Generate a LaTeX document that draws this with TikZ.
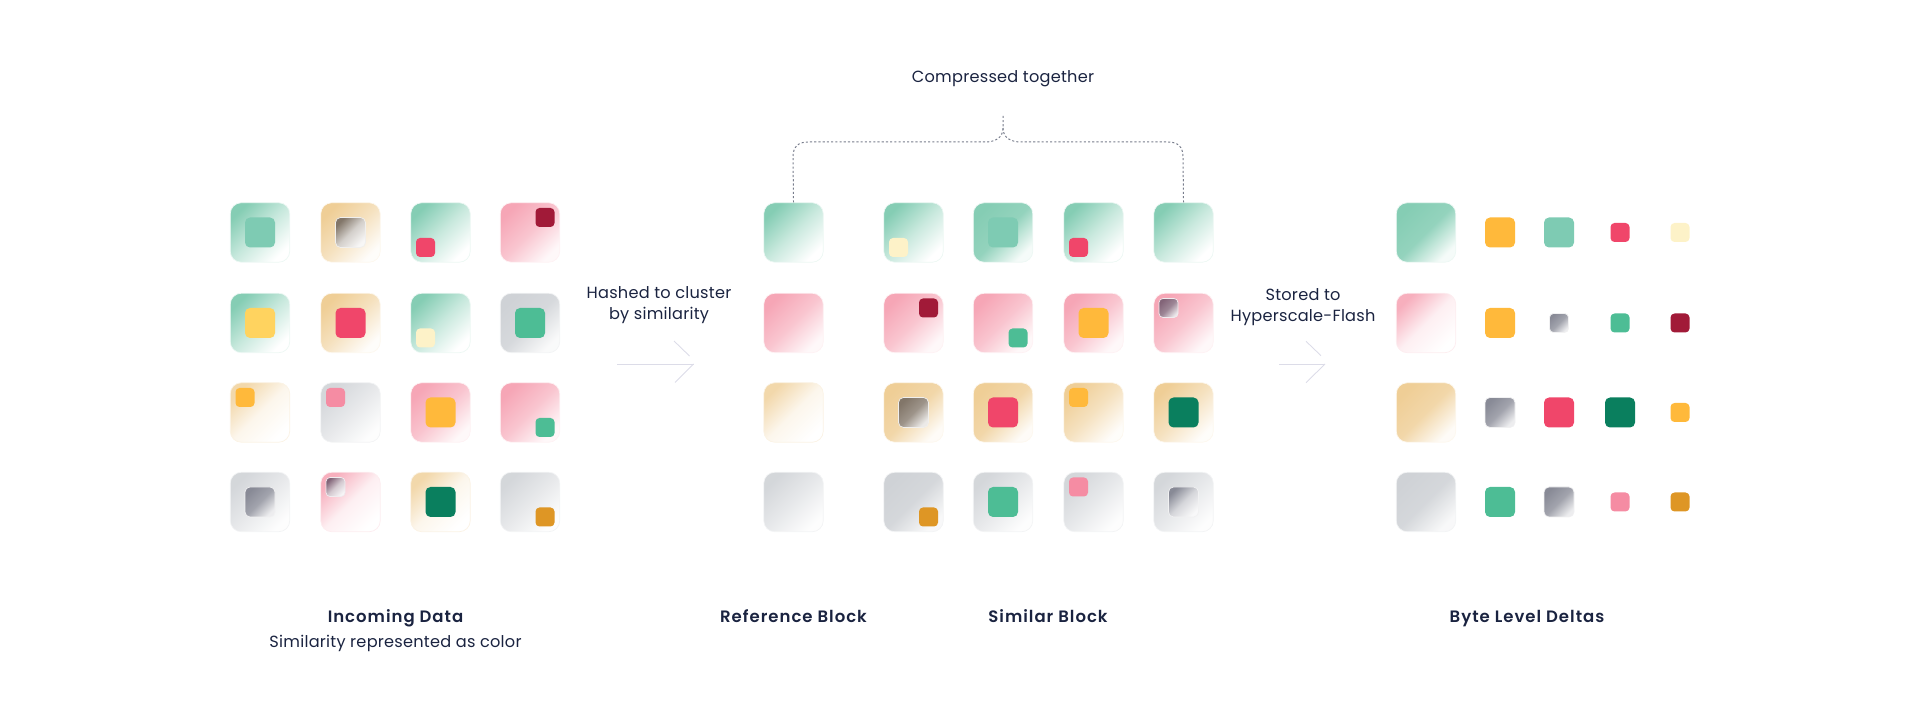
\documentclass[tikz,border=0pt]{standalone}
\usepackage{fontspec}
\setmainfont[LetterSpace=1.5]{Poppins}
\newfontfamily\titlefont[LetterSpace=6]{Poppins SemiBold}
\usetikzlibrary{positioning}
\definecolor{textnavy}{RGB}{26, 35, 64}
\definecolor{linegray}{RGB}{120, 125, 140}
\definecolor{arrowlav}{RGB}{220, 220, 232}
\definecolor{greenA}{RGB}{133, 205, 180}
\definecolor{tanA}{RGB}{239, 206, 150}
\definecolor{pinkA}{RGB}{246, 166, 182}
\definecolor{grayA}{RGB}{207, 210, 214}
\definecolor{sqteal}{RGB}{126, 203, 179}
\definecolor{sqyellow}{RGB}{255, 211, 95}
\definecolor{sqred}{RGB}{240, 70, 106}
\definecolor{sqwine}{RGB}{161, 26, 56}
\definecolor{sqcream}{RGB}{253, 242, 200}
\definecolor{sqgreen}{RGB}{77, 189, 149}
\definecolor{sqamber}{RGB}{255, 185, 59}
\definecolor{sqpink}{RGB}{245, 140, 163}
\definecolor{sqforest}{RGB}{10, 127, 94}
\definecolor{sqochre}{RGB}{222, 150, 37}
\definecolor{sqslate}{RGB}{136, 138, 150}
\definecolor{sqbrown}{RGB}{130, 118, 105}
\definecolor{sqmauve}{RGB}{130, 100, 120}
\tikzset{
    block/.style={rectangle, rounded corners=.11cm, minimum size=.595cm, inner sep=0pt, line width=.2pt},
    greenblock/.style={block, draw=greenA!15, top color=greenA, bottom color=white, middle color=greenA!45, shading angle=45},
    greenfull/.style={block, draw=greenA!15, top color=greenA, bottom color=greenA!8, middle color=greenA!88, shading angle=45},
    tanblock/.style={block, draw=tanA!15, top color=tanA, bottom color=tanA!5, middle color=tanA!60, shading angle=45},
    tanfull/.style={block, draw=tanA!15, top color=tanA, bottom color=tanA!8, middle color=tanA!82, shading angle=45},
    tanlight/.style={block, draw=tanA!25, top color=tanA!80, bottom color=white, middle color=tanA!18, shading angle=45},
    pinkblock/.style={block, draw=pinkA!15, top color=pinkA, bottom color=pinkA!8, middle color=pinkA!65, shading angle=45},
    pinklight/.style={block, draw=pinkA!20, top color=pinkA!90, bottom color=white, middle color=pinkA!18, shading angle=45},
    grayblock/.style={block, draw=grayA!25, top color=grayA, bottom color=grayA!12, middle color=grayA!85, shading angle=45},
    grayfull/.style={block, draw=grayA!25, top color=grayA, bottom color=grayA!15, middle color=grayA!88, shading angle=45},
    graylight/.style={block, draw=grayA!25, top color=grayA!90, bottom color=grayA!5, middle color=grayA!50, shading angle=45},
    bigsq/.style={rectangle, rounded corners=.05cm, minimum size=.30cm, inner sep=0pt},
    smallsq/.style={rectangle, rounded corners=.04cm, minimum size=.19cm, inner sep=0pt},
    fadesq/.style={top color=#1, bottom color=#1!6, middle color=#1!35, draw=#1!12, line width=.2pt, shading angle=45},
    fadefull/.style={top color=#1, bottom color=#1!15, middle color=#1!78, draw=#1!12, line width=.2pt, shading angle=45},
    label/.style={font=\fontsize{4.6pt}{6pt}\selectfont, text=textnavy, align=center},
    title/.style={font=\fontsize{4.7pt}{6pt}\selectfont\titlefont, text=textnavy, align=center, text height=4pt, text depth=1pt},
    thinarrow/.style={draw=arrowlav, line width=.25pt},
    bracket/.style={draw=linegray, line width=.28pt, dash pattern=on .6pt off .6pt},
}
\begin{document}
\begin{tikzpicture}[x=1cm, y=-1cm]
\useasboundingbox (0,0) rectangle (19.2,7.2);

% Incoming data
\node[greenblock] (inc11) at (2.60, 2.325) {};
\node[bigsq, fill=sqteal] (inc11s) at (2.60, 2.325) {};
\node[tanblock] (inc12) at (3.505, 2.325) {};
\node[bigsq, fadesq=sqbrown] (inc12s) at (3.505, 2.325) {};
\node[greenblock] (inc13) at (4.405, 2.325) {};
\node[smallsq, fill=sqred] (inc13s) at (4.255, 2.475) {};
\node[pinkblock] (inc14) at (5.30, 2.325) {};
\node[smallsq, fill=sqwine] (inc14s) at (5.45, 2.175) {};

\node[greenblock] (inc21) at (2.60, 3.23) {};
\node[bigsq, fill=sqyellow] (inc21s) at (2.60, 3.23) {};
\node[tanblock] (inc22) at (3.505, 3.23) {};
\node[bigsq, fill=sqred] (inc22s) at (3.505, 3.23) {};
\node[greenblock] (inc23) at (4.405, 3.23) {};
\node[smallsq, fill=sqcream] (inc23s) at (4.255, 3.38) {};
\node[grayblock] (inc24) at (5.30, 3.23) {};
\node[bigsq, fill=sqgreen] (inc24s) at (5.30, 3.23) {};

\node[tanlight] (inc31) at (2.60, 4.125) {};
\node[smallsq, fill=sqamber] (inc31s) at (2.45, 3.975) {};
\node[graylight] (inc32) at (3.505, 4.125) {};
\node[smallsq, fill=sqpink] (inc32s) at (3.355, 3.975) {};
\node[pinkblock] (inc33) at (4.405, 4.125) {};
\node[bigsq, fill=sqamber] (inc33s) at (4.405, 4.125) {};
\node[pinkblock] (inc34) at (5.30, 4.125) {};
\node[smallsq, fill=sqgreen] (inc34s) at (5.45, 4.275) {};

\node[graylight] (inc41) at (2.60, 5.02) {};
\node[bigsq, fadefull=sqslate] (inc41s) at (2.60, 5.02) {};
\node[pinklight] (inc42) at (3.505, 5.02) {};
\node[smallsq, fadesq=sqmauve] (inc42s) at (3.355, 4.87) {};
\node[tanlight] (inc43) at (4.405, 5.02) {};
\node[bigsq, fill=sqforest] (inc43s) at (4.405, 5.02) {};
\node[graylight] (inc44) at (5.30, 5.02) {};
\node[smallsq, fill=sqochre] (inc44s) at (5.45, 5.17) {};

\node[title] (inctitle) at (3.955, 6.175) {Incoming Data};
\node[label] (incsub) at (3.955, 6.435) {Similarity represented as color};

% Hash arrow
\node[label] (hashlabel) at (6.59, 3.05) {Hashed to cluster\\by similarity};
\coordinate (hashfrom) at (6.17, 3.64);
\coordinate (hashto) at (6.935, 3.64);
\coordinate (hashbarb) at (6.74, 3.41);
\coordinate (hashgap) at (6.895, 3.56);
\coordinate (hashlow) at (6.75, 3.825);
\draw[thinarrow] (hashfrom) -- (hashto);
\draw[thinarrow] (hashbarb) -- (hashgap);
\draw[thinarrow] (hashto) -- (hashlow);

% Reference blocks
\node[greenblock] (ref1) at (7.935, 2.325) {};
\node[pinkblock] (ref2) at (7.935, 3.23) {};
\node[tanlight] (ref3) at (7.935, 4.125) {};
\node[graylight] (ref4) at (7.935, 5.02) {};
\node[title] (reftitle) at (7.935, 6.175) {Reference Block};

% Similar blocks
\node[greenblock] (sim11) at (9.135, 2.325) {};
\node[smallsq, fill=sqcream] (sim11s) at (8.985, 2.475) {};
\node[greenfull] (sim12) at (10.03, 2.325) {};
\node[bigsq, fill=sqteal] (sim12s) at (10.03, 2.325) {};
\node[greenblock] (sim13) at (10.935, 2.325) {};
\node[smallsq, fill=sqred] (sim13s) at (10.785, 2.475) {};
\node[greenblock] (sim14) at (11.835, 2.325) {};

\node[pinkblock] (sim21) at (9.135, 3.23) {};
\node[smallsq, fill=sqwine] (sim21s) at (9.285, 3.08) {};
\node[pinkblock] (sim22) at (10.03, 3.23) {};
\node[smallsq, fill=sqgreen] (sim22s) at (10.18, 3.38) {};
\node[pinkblock] (sim23) at (10.935, 3.23) {};
\node[bigsq, fill=sqamber] (sim23s) at (10.935, 3.23) {};
\node[pinkblock] (sim24) at (11.835, 3.23) {};
\node[smallsq, fadefull=sqmauve] (sim24s) at (11.685, 3.08) {};

\node[tanfull] (sim31) at (9.135, 4.125) {};
\node[bigsq, fadefull=sqbrown] (sim31s) at (9.135, 4.125) {};
\node[tanfull] (sim32) at (10.03, 4.125) {};
\node[bigsq, fill=sqred] (sim32s) at (10.03, 4.125) {};
\node[tanblock] (sim33) at (10.935, 4.125) {};
\node[smallsq, fill=sqamber] (sim33s) at (10.785, 3.975) {};
\node[tanblock] (sim34) at (11.835, 4.125) {};
\node[bigsq, fill=sqforest] (sim34s) at (11.835, 4.125) {};

\node[grayfull] (sim41) at (9.135, 5.02) {};
\node[smallsq, fill=sqochre] (sim41s) at (9.285, 5.17) {};
\node[graylight] (sim42) at (10.03, 5.02) {};
\node[bigsq, fill=sqgreen] (sim42s) at (10.03, 5.02) {};
\node[graylight] (sim43) at (10.935, 5.02) {};
\node[smallsq, fill=sqpink] (sim43s) at (10.785, 4.87) {};
\node[graylight] (sim44) at (11.835, 5.02) {};
\node[bigsq, fadesq=sqslate] (sim44s) at (11.835, 5.02) {};

\node[title] (simtitle) at (10.48, 6.175) {Similar Block};

% Bracket over the green row
\node[label] (brlabel) at (10.03, .785) {Compressed together};
\coordinate (brtop) at (10.03, 1.16);
\draw[bracket] (ref1.north) -- (7.93, 1.57) .. controls (7.93, 1.47) and (7.98, 1.42) .. (8.08, 1.42) -- (9.85, 1.42) .. controls (9.95, 1.42) and (10.03, 1.38) .. (10.03, 1.28) -- (brtop);
\draw[bracket] (sim14.north) -- (11.83, 1.57) .. controls (11.83, 1.47) and (11.78, 1.42) .. (11.68, 1.42) -- (10.21, 1.42) .. controls (10.11, 1.42) and (10.03, 1.38) .. (10.03, 1.28);

% Store arrow
\node[label] (storelabel) at (13.03, 3.075) {Stored to\\Hyperscale-Flash};
\coordinate (storefrom) at (12.79, 3.64);
\coordinate (storeto) at (13.25, 3.64);
\coordinate (storebarb) at (13.06, 3.413);
\coordinate (storegap) at (13.21, 3.557);
\coordinate (storelow) at (13.06, 3.827);
\draw[thinarrow] (storefrom) -- (storeto);
\draw[thinarrow] (storebarb) -- (storegap);
\draw[thinarrow] (storeto) -- (storelow);

% Byte level deltas
\node[greenfull] (dlt1) at (14.26, 2.325) {};
\node[bigsq, fill=sqamber] (dlt11) at (15.00, 2.325) {};
\node[bigsq, fill=sqteal] (dlt12) at (15.59, 2.325) {};
\node[smallsq, fill=sqred] (dlt13) at (16.20, 2.325) {};
\node[smallsq, fill=sqcream] (dlt14) at (16.80, 2.325) {};

\node[pinklight] (dlt2) at (14.26, 3.23) {};
\node[bigsq, fill=sqamber] (dlt21) at (15.00, 3.23) {};
\node[smallsq, fadefull=sqslate] (dlt22) at (15.59, 3.23) {};
\node[smallsq, fill=sqgreen] (dlt23) at (16.20, 3.23) {};
\node[smallsq, fill=sqwine] (dlt24) at (16.80, 3.23) {};

\node[tanfull] (dlt3) at (14.26, 4.125) {};
\node[bigsq, fadefull=sqslate] (dlt31) at (15.00, 4.125) {};
\node[bigsq, fill=sqred] (dlt32) at (15.59, 4.125) {};
\node[bigsq, fill=sqforest] (dlt33) at (16.20, 4.125) {};
\node[smallsq, fill=sqamber] (dlt34) at (16.80, 4.125) {};

\node[grayfull] (dlt4) at (14.26, 5.02) {};
\node[bigsq, fill=sqgreen] (dlt41) at (15.00, 5.02) {};
\node[bigsq, fadefull=sqslate] (dlt42) at (15.59, 5.02) {};
\node[smallsq, fill=sqpink] (dlt43) at (16.20, 5.02) {};
\node[smallsq, fill=sqochre] (dlt44) at (16.80, 5.02) {};

\node[title] (dlttitle) at (15.27, 6.175) {Byte Level Deltas};

\end{tikzpicture}
\end{document}
